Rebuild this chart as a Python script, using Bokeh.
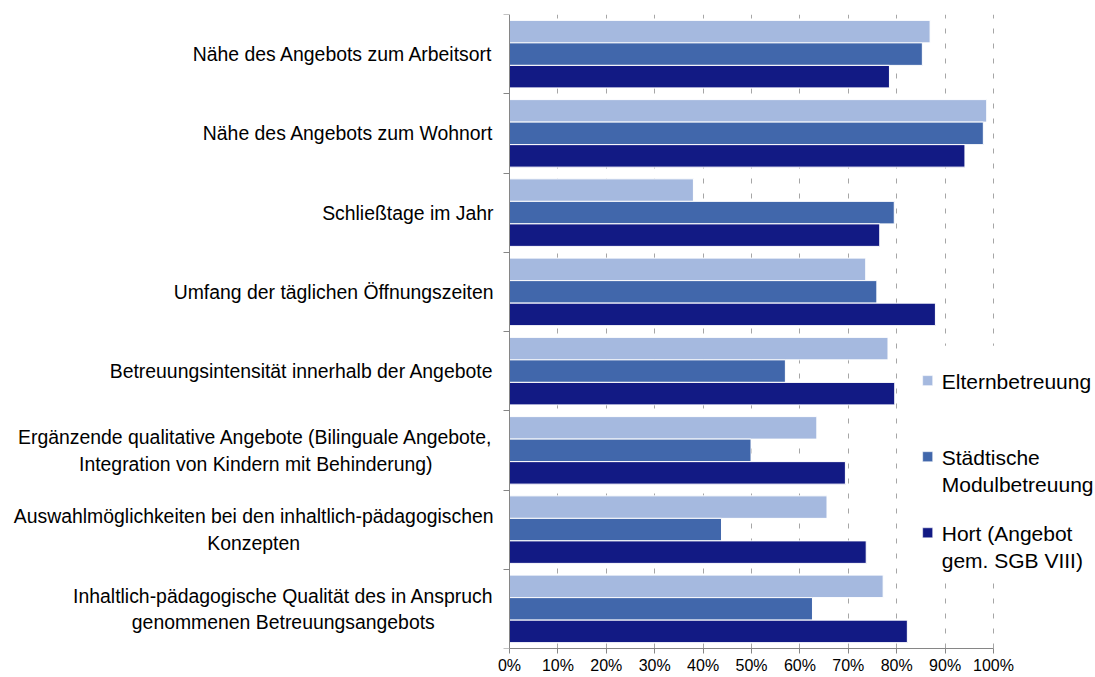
from bokeh.plotting import figure
from bokeh.models import Range1d, FixedTicker, NumeralTickFormatter, Label
from bokeh.embed import file_html
from bokeh.resources import INLINE
from bokeh.core.properties import value

categories = [
    "Nähe des Angebots zum Arbeitsort",
    "Nähe des Angebots zum Wohnort",
    "Schließtage im Jahr",
    "Umfang der täglichen Öffnungszeiten",
    "Betreuungsintensität innerhalb der Angebote",
    "Ergänzende qualitative Angebote (Bilinguale Angebote,\nIntegration von Kindern mit Behinderung)",
    "Auswahlmöglichkeiten bei den inhaltlich-pädagogischen\nKonzepten",
    "Inhaltlich-pädagogische Qualität des in Anspruch\ngenommenen Betreuungsangebots",
]
series_names = ["Elternbetreuung", "Städtische\nModulbetreuung", "Hort (Angebot\ngem. SGB VIII)"]
elternbetreuung = [0.869, 0.986, 0.380, 0.736, 0.782, 0.635, 0.656, 0.772]
modulbetreuung = [0.853, 0.979, 0.795, 0.759, 0.570, 0.499, 0.438, 0.626]
hort = [0.785, 0.941, 0.765, 0.880, 0.796, 0.694, 0.737, 0.822]
x_ticks = [0.0, 0.1, 0.2, 0.3, 0.4, 0.5, 0.6, 0.7, 0.8, 0.9, 1.0]
colors = ["#A5B9DF", "#4167AB", "#121A84"]

FONT = "Liberation Sans"
n = len(categories)
centers = [n - 0.5 - i for i in range(n)]
boundaries = [float(i) for i in range(n + 1)]

W, H = 1095, 677
AXIS_PX = 509      # pixel position of the 0 % line
UNIT_PX = 484      # pixels from 0 % to 100 %

p = figure(width=W, height=H, output_backend="svg", toolbar_location=None,
           x_range=Range1d(-AXIS_PX / UNIT_PX, (W - AXIS_PX) / UNIT_PX), y_range=Range1d(0, n),
           min_border_left=0, min_border_right=0, min_border_top=14, min_border_bottom=29)
p.outline_line_color = None
p.background_fill_color = "white"

# grid
p.xgrid.ticker = FixedTicker(ticks=x_ticks[1:])
p.xgrid.grid_line_color = "#A6A6A6"
p.xgrid.grid_line_dash = "5 10"
p.xgrid.grid_line_width = 1
p.ygrid.grid_line_color = None

# bars
bar_h = 0.284
series = [elternbetreuung, modulbetreuung, hort]
offsets = [bar_h, 0.0, -bar_h]
for vals, col, off in zip(series, colors, offsets):
    p.hbar(y=[c + off for c in centers], left=0, right=vals, height=bar_h,
           fill_color=col, line_color="white", line_width=1)

# legend background + legend (manual)
p.quad(left=0.84, right=1.3, bottom=0.89, top=3.82, fill_color="white", line_color=None)
leg_top = 3.51
leg_step = 0.96
p.scatter(x=[0.864] * 3, y=[leg_top - 0.13 - i * leg_step for i in range(3)],
          marker="square", size=10, fill_color=colors, line_color="white", line_width=0.5)
p.text(x=[0.893] * 3, y=[leg_top - i * leg_step for i in range(3)], text=series_names,
       text_baseline="top", text_align="left", text_font=value(FONT),
       text_font_size="21px", text_color="black", text_line_height=1.15)

# x axis
xa = p.xaxis[0]
xa.ticker = FixedTicker(ticks=x_ticks)
xa.formatter = NumeralTickFormatter(format="0%")
xa.bounds = (0, 1)
xa.axis_line_color = "#868686"
xa.major_tick_line_color = "#868686"
xa.major_tick_out = 5
xa.major_tick_in = 0
xa.minor_tick_line_color = None
xa.major_label_standoff = 3
xa.axis_label_standoff = 0
xa.major_label_text_font = FONT
xa.major_label_text_font_size = "16px"
xa.major_label_text_color = "black"

# y axis at x = 0 (ticks at category boundaries, labels as annotations)
ya = p.yaxis[0]
ya.fixed_location = 0
ya.ticker = FixedTicker(ticks=centers, minor_ticks=boundaries)
ya.axis_line_color = "#868686"
ya.major_tick_line_color = None
ya.major_tick_out = 0
ya.major_tick_in = 0
ya.minor_tick_line_color = "#868686"
ya.minor_tick_out = 6
ya.minor_tick_in = 0
ya.major_label_text_font_size = "0px"
ya.major_label_text_color = None
ya.axis_label_standoff = 0

for c, lab in zip(centers, categories):
    p.add_layout(Label(x=0, y=c, x_offset=-16, text=lab, anchor="center_right",
                       text_align="center", text_baseline="middle",
                       text_font=FONT, text_font_size="19.4px", text_color="black",
                       text_line_height=1.2))

open("out.html", "w").write(file_html(p, INLINE))
